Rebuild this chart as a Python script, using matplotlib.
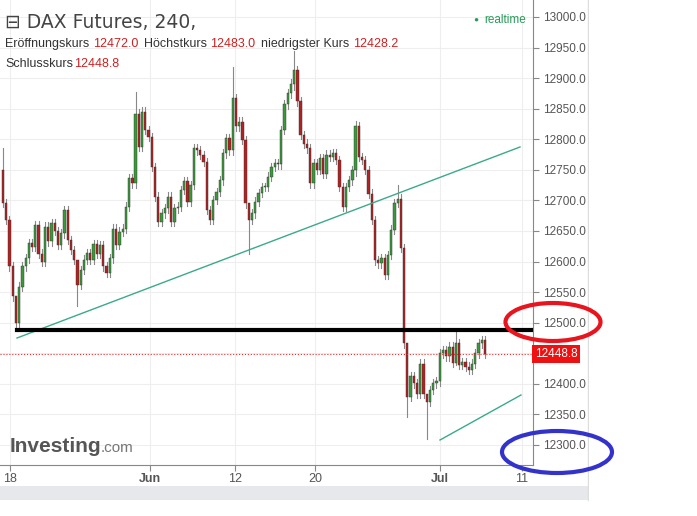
import matplotlib.pyplot as plt
from matplotlib.patches import Ellipse, Rectangle
import numpy as np

plt.rcParams['font.family'] = ['Liberation Sans', 'DejaVu Sans']

first_open = 12750
closes = [12695, 12668, 12592, 12543, 12499, 12559, 12592, 12605, 12630, 12624,
          12660, 12613, 12600, 12657, 12633, 12663, 12650, 12627, 12646, 12684,
          12635, 12619, 12603, 12562, 12586, 12603, 12614, 12603, 12628, 12613,
          12627, 12592, 12581, 12605, 12654, 12627, 12649, 12654, 12690, 12736,
          12728, 12842, 12788, 12845, 12815, 12804, 12755, 12706, 12665, 12679,
          12687, 12706, 12665, 12687, 12690, 12717, 12731, 12698, 12725, 12785,
          12782, 12774, 12763, 12684, 12668, 12701, 12714, 12733, 12777, 12802,
          12782, 12867, 12821, 12829, 12799, 12695, 12668, 12679, 12698, 12712,
          12722, 12722, 12739, 12755, 12761, 12759, 12815, 12857, 12875, 12891,
          12913, 12862, 12807, 12793, 12785, 12728, 12761, 12750, 12769, 12744,
          12775, 12771, 12777, 12766, 12722, 12690, 12722, 12733, 12750, 12821,
          12771, 12766, 12750, 12711, 12668, 12602, 12597, 12605, 12578, 12611,
          12652, 12695, 12703, 12622, 12466, 12379, 12412, 12401, 12384, 12433,
          12384, 12371, 12390, 12401, 12404, 12450, 12455, 12445, 12461, 12434,
          12466, 12431, 12436, 12428, 12423, 12433, 12450, 12466, 12472, 12448.8]
# notable wicks: index -> (high, low)
wicks = {0: (12785, 12690), 4: (12543, 12490), 23: (12586, 12527), 41: (12877, 12720),
         71: (12918, 12775), 76: (12695, 12613), 90: (12945, 12880), 109: (12830, 12740),
         122: (12725, 12690), 125: (12466, 12345), 131: (12384, 12310), 140: (12490, 12430),
         150: (12483, 12428)}
default_wick = 7
tick_labels = ['18', 'Jun', '12', '20', 'Jul', '11']
tick_px = [10, 150, 235, 315, 440, 522]

W, H = 697, 516
fig = plt.figure(figsize=(W/100, H/100), dpi=100)
ax = fig.add_axes([0, 1-465/H, 533/W, 465/H])

n = len(closes)
sp = 482/(n-1)
px2i = lambda p: (p-3)/sp
opens = [first_open] + closes[:-1]
for i in range(n):
    o, c = opens[i], closes[i]
    hi, lo = wicks.get(i, (max(o, c)+default_wick, min(o, c)-default_wick))
    col = '#3a9a3a' if c >= o else '#b22222'
    ax.plot([i, i], [lo, hi], color='#888888', lw=0.8, zorder=2)
    ax.add_patch(Rectangle((i-0.35, min(o, c)), 0.7, max(abs(c-o), 1.5),
                           facecolor=col, edgecolor='#333333', lw=0.3, zorder=3))

ytop = 13027.8
ybot = ytop - 465*1.6356
ax.set_ylim(ybot, ytop)
ax.set_xlim(px2i(0), px2i(533))
yt = np.arange(12300, 13001, 50)
ax.set_yticks(yt)
ax.set_xticks([px2i(p) for p in tick_px])
ax.set_xticklabels(tick_labels, fontsize=9, color='#555555')
for t, lab in zip(ax.get_xticklabels(), tick_labels):
    if lab in ('Jun', 'Jul'):
        t.set_fontweight('bold')
ax.yaxis.tick_right()
ax.set_yticklabels(['' if v == 12450 else f'{v:.1f}' for v in yt], fontsize=8.5, color='#555555')
ax.tick_params(axis='y', length=4, pad=3, color='#888888')
ax.tick_params(axis='x', length=4, pad=2, color='#888888')
ax.grid(True, color='#eeeeee', lw=0.8, zorder=0)
for s in ['top', 'left']:
    ax.spines[s].set_visible(False)
ax.spines['right'].set_color('#888888')
ax.spines['bottom'].set_color('#888888')

# drawn lines
ax.plot([px2i(17), px2i(520)], [ytop-338*1.6356, ytop-147*1.6356], color='#3aaa8a', lw=1, zorder=4)
ax.plot([px2i(440), px2i(521)], [ytop-440*1.6356, ytop-395*1.6356], color='#3aaa8a', lw=1, zorder=4)
ax.plot([px2i(17), px2i(533)], [12488, 12488], color='black', lw=3, zorder=5)
ax.axhline(closes[-1], color='#e03030', lw=0.8, ls=':', zorder=4)
ax.text(1.003, closes[-1], f'{closes[-1]:.1f}', transform=ax.get_yaxis_transform(),
        fontsize=8.5, color='white', va='center', ha='left',
        bbox=dict(boxstyle='square,pad=0.25', fc='#ee1111', ec='none'), clip_on=False, zorder=6)

# header text
fs = 9
fig.text(5/W, 1-22/H, '⊟ DAX Futures, 240,', fontsize=13.5, color='#444444', va='center',
         family=['DejaVu Sans'])
rows = [(44, [(5, 'Eröffnungskurs', '#333333'), (93, '12472.0', '#cc2222'),
              (144, 'Höchstkurs', '#333333'), (210, '12483.0', '#cc2222'),
              (261, 'niedrigster Kurs', '#333333'), (353, '12428.2', '#cc2222')]),
        (64, [(5, 'Schlusskurs', '#333333'), (74, '12448.8', '#cc2222')])]
for y, parts in rows:
    for x, s, c in parts:
        fig.text(x/W, 1-y/H, s, fontsize=fs, color=c, va='center')
fig.text(473/W, 1-20/H, '●', fontsize=6, color='#2a9a5a', va='center')
fig.text(484/W, 1-20/H, 'realtime', fontsize=8.5, color='#2a9a5a', va='center')
fig.text(10/W, 1-446/H, 'Investing', fontsize=15, color='#555555', fontweight='bold', va='center')
fig.text(101/W, 1-448/H, '.com', fontsize=11, color='#777777', va='center')

# status bar and right border
fig.patches.append(Rectangle((0, 1-500/H), 588/W, 14/H, transform=fig.transFigure, fc='#e6e8ec', ec='none'))
fig.add_artist(plt.Line2D([588/W, 588/W], [1-500/H, 1], transform=fig.transFigure, color='#dddddd', lw=1))
fig.patches.append(Rectangle((589/W, 0), 108/W, 1, transform=fig.transFigure, fc='white', ec='none', zorder=5))

# hand-drawn ellipses
fig.patches.append(Ellipse((553/W, 1-322/H), 95/W, 38/H, transform=fig.transFigure,
                           fill=False, ec='#e8141e', lw=3, zorder=10))
fig.patches.append(Ellipse((557/W, 1-452/H), 110/W, 42/H, transform=fig.transFigure,
                           fill=False, ec='#3333cc', lw=3, zorder=10))

fig.savefig('out.png', dpi=100)
